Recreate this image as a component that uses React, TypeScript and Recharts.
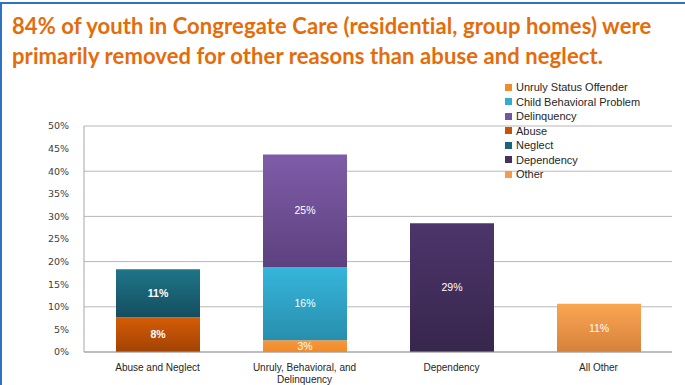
import React from 'react';
import { BarChart, Bar, XAxis, YAxis, CartesianGrid, LabelList, Legend } from 'recharts';

const categories = ['Abuse and Neglect', 'Unruly, Behavioral, and Delinquency', 'Dependency', 'All Other'];

// percent of youth, one value per category
const abuse = [7.7, 0, 0, 0];
const neglect = [10.6, 0, 0, 0];
const unrulyStatus = [0, 2.6, 0, 0];
const childBehavioral = [0, 16.2, 0, 0];
const delinquency = [0, 24.9, 0, 0];
const dependency = [0, 0, 28.5, 0];
const other = [0, 0, 0, 10.7];

const yTicks = [0, 5, 10, 15, 20, 25, 30, 35, 40, 45, 50];

const SERIES = [
  { key: 'abuse', name: 'Abuse', values: abuse, top: '#d45c06', bottom: '#a34204', swatch: '#c55309', bold: true },
  { key: 'neglect', name: 'Neglect', values: neglect, top: '#1f7589', bottom: '#144d5f', swatch: '#1b6577', bold: true },
  { key: 'unrulyStatus', name: 'Unruly Status Offender', values: unrulyStatus, top: '#f9973a', bottom: '#ef8a2c', swatch: '#f18b2e', bold: false },
  { key: 'childBehavioral', name: 'Child Behavioral Problem', values: childBehavioral, top: '#36b6dc', bottom: '#288ead', swatch: '#33abd0', bold: false },
  { key: 'delinquency', name: 'Delinquency', values: delinquency, top: '#7f5ca8', bottom: '#5d417f', swatch: '#7455a0', bold: false },
  { key: 'dependency', name: 'Dependency', values: dependency, top: '#4d356b', bottom: '#37264c', swatch: '#45305e', bold: false },
  { key: 'other', name: 'Other', values: other, top: '#fba653', bottom: '#d6813a', swatch: '#f59c4c', bold: false },
];

const LEGEND_ORDER = ['unrulyStatus', 'childBehavioral', 'delinquency', 'abuse', 'neglect', 'dependency', 'other'];

const data = categories.map((name, i) => {
  const row: Record<string, string | number> = { name };
  SERIES.forEach(s => { row[s.key] = s.values[i]; });
  return row;
});

const FONT = '"Liberation Sans", Arial, sans-serif';

const LegendBox = () => (
  <div style={{ fontFamily: FONT, fontSize: 11, color: '#262626' }}>
    {LEGEND_ORDER.map(k => {
      const s = SERIES.find(x => x.key === k)!;
      return (
        <div key={k} style={{ display: 'flex', alignItems: 'center', height: 14.5, lineHeight: '14.5px' }}>
          <span style={{ display: 'inline-block', width: 7, height: 7, background: s.swatch, marginRight: 4 }} />
          <span>{s.name}</span>
        </div>
      );
    })}
  </div>
);

// wrap long category names onto two lines (roughly 24 chars per line)
const wrapLabel = (text: string, max = 24) => {
  const lines: string[] = [];
  let cur = '';
  text.split(' ').forEach(w => {
    const next = cur ? `${cur} ${w}` : w;
    if (next.length > max && cur) {
      lines.push(cur);
      cur = w;
    } else {
      cur = next;
    }
  });
  if (cur) lines.push(cur);
  return lines;
};

const XTick = (props: any) => {
  const { x, y, payload } = props;
  const lines = wrapLabel(String(payload.value));
  return (
    <text x={x} y={y} textAnchor="middle" fontSize={10} fill="#262626" fontFamily={FONT}>
      {lines.map((l, i) => (
        <tspan key={i} x={x} dy={i === 0 ? 6 : 12}>{l}</tspan>
      ))}
    </text>
  );
};

export default function App() {
  return (
    <div style={{ position: 'fixed', left: 0, top: 0, width: 685, height: 385, background: '#fff', overflow: 'hidden' }}>
      <div style={{ position: 'absolute', left: 0, top: 2, width: 685, height: 2, background: '#2f72c4' }} />
      <div style={{ position: 'absolute', left: 0, top: 2, width: 2, height: 383, background: '#2f72c4' }} />
      <div style={{
        position: 'absolute', left: 12, top: 11, width: 672,
        fontFamily: 'Lato, "Open Sans", sans-serif', fontWeight: 700, fontSize: 22,
        letterSpacing: 0.1, lineHeight: '30px', color: '#e46c0a', whiteSpace: 'nowrap',
      }}>
        84% of youth in Congregate Care (residential, group homes) were<br />
        primarily removed for other reasons than abuse and neglect.
      </div>
      <div style={{ position: 'absolute', left: 0, top: 0 }}>
        <BarChart width={685} height={385} data={data} margin={{ top: 126, right: 13, bottom: 0, left: 0 }}>
          <defs>
            {SERIES.map(s => (
              <linearGradient key={s.key} id={`grad-${s.key}`} x1="0" y1="0" x2="0" y2="1">
                <stop offset="0%" stopColor={s.top} />
                <stop offset="100%" stopColor={s.bottom} />
              </linearGradient>
            ))}
          </defs>
          <CartesianGrid vertical={false} stroke="#b8b8b8" />
          <XAxis dataKey="name" height={33} tickLine={false} tickMargin={7} stroke="#a0a0a0"
            interval={0} tick={<XTick />} />
          <YAxis width={84} domain={[0, 50]} ticks={yTicks} tickLine={false} tickMargin={9}
            stroke="#a6a6a6" tickFormatter={(v: number) => `${v}%`}
            tick={{ fontSize: 9.5, fill: '#404040', fontFamily: 'DejaVu Sans, sans-serif' }} />
          <Legend layout="vertical" align="center" verticalAlign="middle" content={<LegendBox />}
            wrapperStyle={{ left: 505, top: 80, width: 170 }} />
          {SERIES.map(s => (
            <Bar key={s.key} dataKey={s.key} name={s.name} stackId="a" barSize={84}
              fill={`url(#grad-${s.key})`} isAnimationActive={false}>
              <LabelList dataKey={s.key} position="center" fill="#fff" fontSize={10.5}
                fontFamily={FONT} fontWeight={s.bold ? 700 : 400}
                formatter={(v: any) => (v ? `${Math.round(v)}%` : '')} />
            </Bar>
          ))}
        </BarChart>
      </div>
    </div>
  );
}
